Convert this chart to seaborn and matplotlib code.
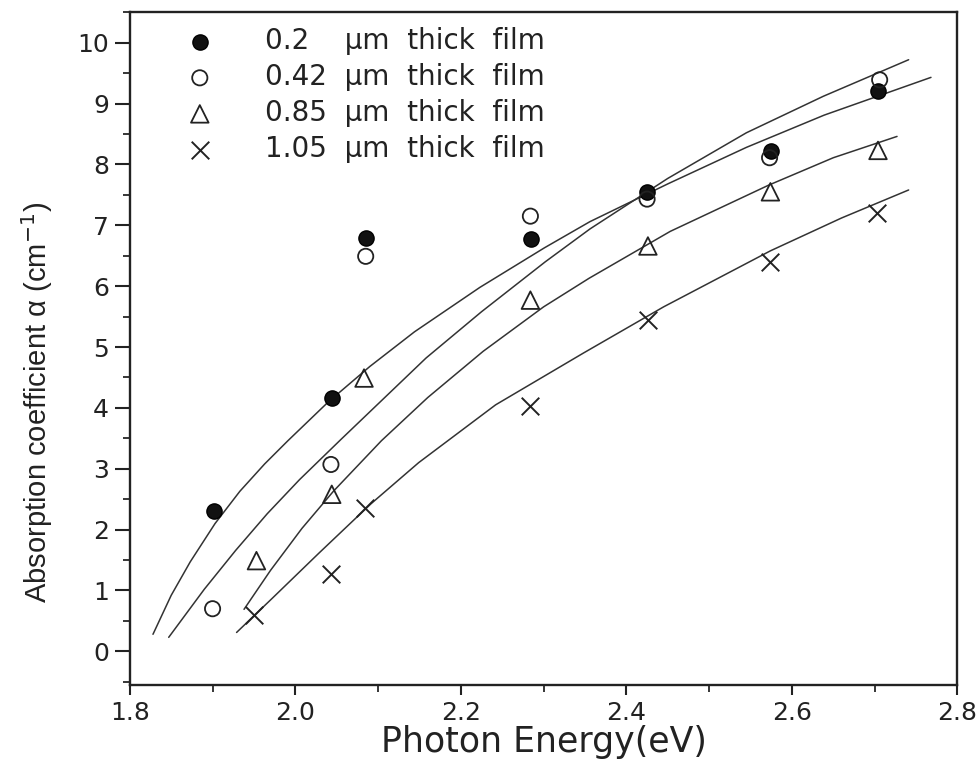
import matplotlib
matplotlib.use("Agg")
import matplotlib.pyplot as plt
from matplotlib.ticker import MultipleLocator
import seaborn as sns
import pandas as pd

# ---- data ----
labels = ["0.2    \u03bcm  thick  film", "0.42  \u03bcm  thick  film",
          "0.85  \u03bcm  thick  film", "1.05  \u03bcm  thick  film"]

x_02 = [1.902, 2.044, 2.085, 2.285, 2.425, 2.575, 2.704]
y_02 = [2.30, 4.16, 6.79, 6.77, 7.54, 8.22, 9.20]

x_042 = [1.900, 2.043, 2.085, 2.284, 2.425, 2.573, 2.706]
y_042 = [0.70, 3.07, 6.49, 7.15, 7.43, 8.11, 9.39]

x_085 = [1.953, 2.044, 2.083, 2.284, 2.426, 2.574, 2.704]
y_085 = [1.49, 2.58, 4.49, 5.77, 6.66, 7.55, 8.23]

x_105 = [1.950, 2.043, 2.084, 2.283, 2.426, 2.574, 2.703]
y_105 = [0.59, 1.27, 2.36, 4.03, 5.44, 6.40, 7.20]

# fitted curves
cx_02 = [1.828, 1.850, 1.873, 1.903, 1.933, 1.963, 1.991, 2.040, 2.090,
         2.144, 2.223, 2.301, 2.356, 2.450, 2.545, 2.639, 2.768]
cy_02 = [0.28, 0.92, 1.47, 2.10, 2.63, 3.08, 3.46, 4.10, 4.68,
         5.25, 5.98, 6.63, 7.06, 7.68, 8.28, 8.81, 9.43]

cx_042 = [1.847, 1.890, 1.928, 1.966, 2.005, 2.055, 2.158, 2.225, 2.302,
          2.356, 2.450, 2.545, 2.638, 2.741]
cy_042 = [0.23, 1.02, 1.66, 2.26, 2.82, 3.48, 4.82, 5.58, 6.40,
          6.94, 7.77, 8.52, 9.12, 9.72]

cx_085 = [1.938, 1.970, 2.008, 2.046, 2.104, 2.160, 2.227, 2.300, 2.355,
          2.453, 2.572, 2.650, 2.727]
cy_085 = [0.69, 1.33, 2.02, 2.63, 3.46, 4.17, 4.93, 5.66, 6.13,
          6.90, 7.66, 8.11, 8.46]

cx_105 = [1.929, 1.972, 2.029, 2.091, 2.149, 2.242, 2.348, 2.445, 2.574,
          2.660, 2.741]
cy_105 = [0.31, 0.87, 1.62, 2.42, 3.10, 4.05, 4.90, 5.66, 6.58,
          7.12, 7.58]

xticks = [1.8, 2.0, 2.2, 2.4, 2.6, 2.8]
yticks = list(range(0, 11))

# ---- styling ----
sns.set_theme(style="ticks")
plt.rcParams["font.family"] = ["DejaVu Sans"]

fig = plt.figure(figsize=(9.76, 7.66), dpi=100)
ax = fig.add_axes([0.133, 0.106, 0.848, 0.878])

series = [
    (x_02, y_02, dict(marker="o", s=120, color="black", edgecolor="black", facecolor="#111111", linewidth=1.0)),
    (x_042, y_042, dict(marker="o", s=120, color="black", edgecolor="#222222", facecolor="none", linewidth=1.3)),
    (x_085, y_085, dict(marker="^", s=160, color="black", edgecolor="#222222", facecolor="none", linewidth=1.3)),
    (x_105, y_105, dict(marker="x", s=160, color="#222222", linewidth=1.4)),
]
curves = [(cx_02, cy_02), (cx_042, cy_042), (cx_085, cy_085), (cx_105, cy_105)]

for (cx, cy) in curves:
    dfc = pd.DataFrame({"E": cx, "a": cy})
    sns.lineplot(data=dfc, x="E", y="a", ax=ax, color="#333333", linewidth=1.1,
                 sort=False, estimator=None)

handles = []
for (xs, ys, kw), lab in zip(series, labels):
    df = pd.DataFrame({"E": xs, "a": ys})
    sns.scatterplot(data=df, x="E", y="a", ax=ax, zorder=3, **kw)
    handles.append(ax.collections[-1])

leg = ax.legend(handles, labels, loc="upper left", bbox_to_anchor=(0.051, 0.978),
                frameon=False, fontsize=20, handlelength=2.0, handletextpad=1.35,
                labelspacing=0.29, borderaxespad=0.0, borderpad=0.0)
for t in leg.get_texts():
    t.set_color("#222222")

ax.set_xlim(1.8, 2.8)
ax.set_ylim(-0.55, 10.5)
ax.set_xticks(xticks)
ax.set_xticklabels([f"{v:.1f}" for v in xticks])
ax.set_yticks(yticks)
ax.xaxis.set_minor_locator(MultipleLocator(0.1))
ax.yaxis.set_minor_locator(MultipleLocator(0.5))
ax.tick_params(axis="both", which="major", labelsize=18, colors="#222222", width=1.5, direction="out")
ax.tick_params(axis="y", which="major", length=11, pad=4)
ax.tick_params(axis="x", which="major", length=7, pad=5)
ax.tick_params(axis="both", which="minor", length=5, width=1.3, direction="out")
for sp in ax.spines.values():
    sp.set_linewidth(1.7)
    sp.set_color("#222222")

ax.set_xlabel("Photon Energy(eV)", fontsize=25, labelpad=0, color="#222222")
ax.set_ylabel("Absorption coefficient \u03b1 (cm$^{-1}$)", fontsize=21, color="#222222",
              family=["Liberation Sans Narrow", "Liberation Sans", "DejaVu Sans"])
ax.yaxis.set_label_coords(-0.09, 0.42)

fig.savefig("out.png", dpi=100)
